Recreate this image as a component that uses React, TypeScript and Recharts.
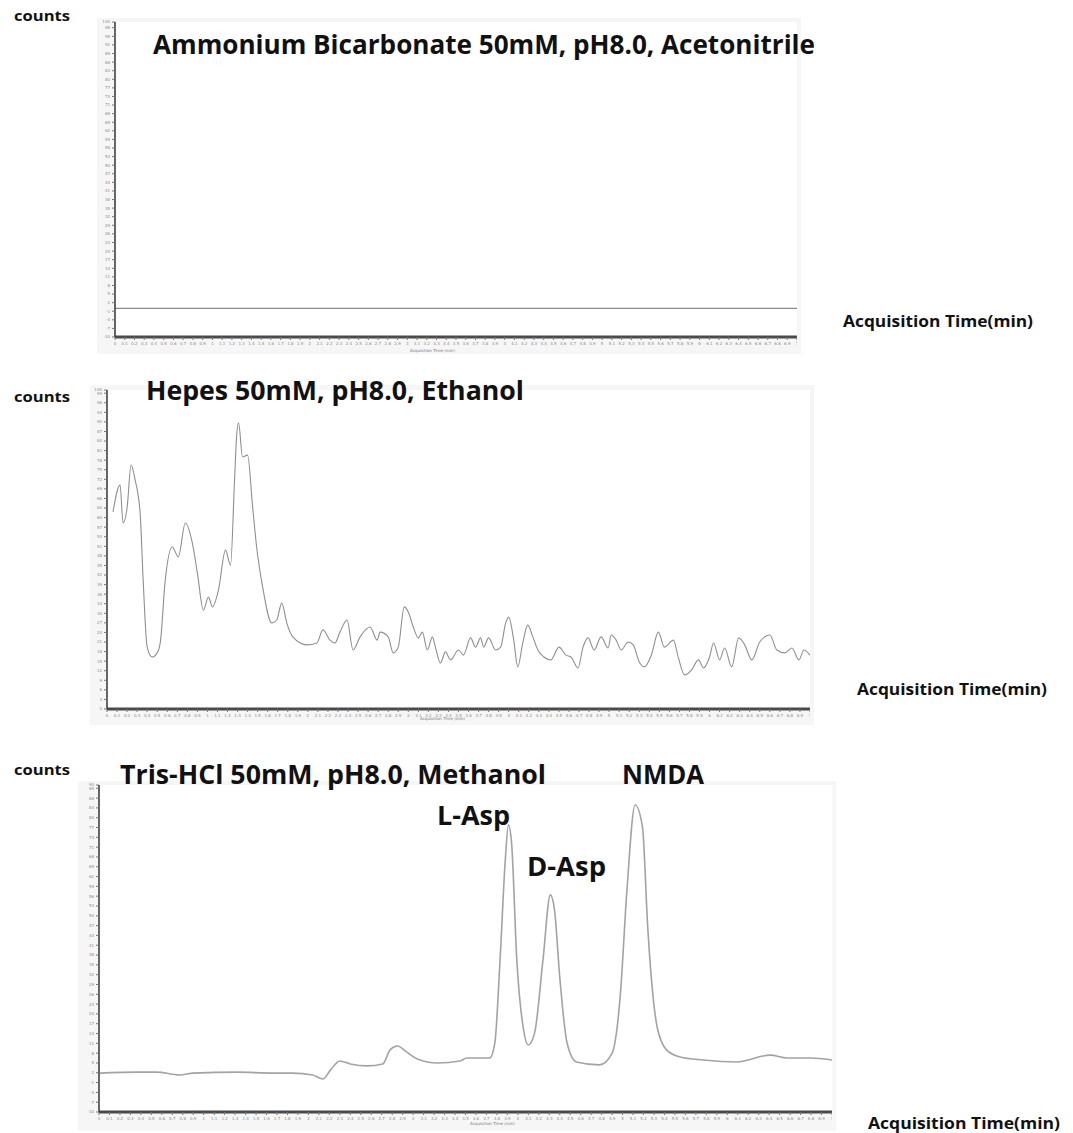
import React from 'react';
import { LineChart, Line, XAxis, YAxis, CartesianGrid } from 'recharts';

// panel 1 – flat trace (Ammonium Bicarbonate)
const ambicTime = [0, 1, 2, 3, 4, 5, 6, 7];
const ambicCounts = [0, 0, 0, 0, 0, 0, 0, 0];

// panel 2 – Hepes / Ethanol (noisy trace)
const hepesTime = [
  0.06, 0.13, 0.16, 0.2, 0.24, 0.28, 0.33, 0.36, 0.4, 0.45, 0.5, 0.53, 0.58, 0.65, 0.71, 0.78, 0.85, 0.9,
  0.96, 1.01, 1.05, 1.11, 1.18, 1.23, 1.27, 1.29, 1.31, 1.35, 1.4, 1.45, 1.49, 1.55, 1.64, 1.69, 1.74, 1.79,
  1.85, 1.99, 2.09, 2.15, 2.22, 2.27, 2.32, 2.39, 2.45, 2.52, 2.62, 2.69, 2.72, 2.8, 2.85, 2.9, 2.96, 3.0,
  3.05, 3.1, 3.14, 3.19, 3.24, 3.27, 3.32, 3.37, 3.42, 3.5, 3.55, 3.62, 3.67, 3.72, 3.75, 3.8, 3.87, 3.92,
  3.97, 4.0, 4.05, 4.09, 4.14, 4.19, 4.24, 4.29, 4.35, 4.42, 4.5, 4.57, 4.62, 4.69, 4.74, 4.79, 4.85, 4.92,
  4.99, 5.02, 5.07, 5.12, 5.19, 5.24, 5.3, 5.35, 5.42, 5.49, 5.55, 5.64, 5.69, 5.75, 5.82, 5.89, 5.94, 6.0,
  6.04, 6.1, 6.15, 6.22, 6.29, 6.35, 6.42, 6.5, 6.6, 6.67, 6.75, 6.82, 6.89, 6.94, 7.0,
];
const hepesCounts = [
  61.8, 70.2, 58.3, 63.0, 76.5, 71.8, 61.4, 40.4, 19.4, 16.3, 17.6, 20.7, 40.4, 50.8, 47.7, 58.3, 52.0, 42.6,
  31.0, 35.1, 32.0, 37.3, 49.8, 45.1, 71.8, 85.3, 89.7, 79.0, 79.6, 63.3, 50.8, 38.2, 27.0, 27.9, 33.2, 27.0,
  22.6, 20.1, 20.7, 24.8, 21.6, 20.7, 24.1, 27.9, 18.5, 22.6, 25.7, 21.6, 24.1, 22.6, 17.6, 19.4, 32.0, 30.4,
  25.7, 22.3, 24.1, 18.5, 22.6, 19.4, 14.4, 17.9, 15.4, 18.5, 16.9, 22.3, 19.4, 22.3, 19.4, 22.3, 18.5, 19.4,
  27.0, 28.8, 21.6, 13.2, 20.7, 26.3, 22.6, 18.5, 16.3, 15.4, 19.4, 16.9, 16.3, 12.9, 19.4, 22.3, 18.5, 22.6,
  19.1, 23.2, 21.6, 18.5, 21.0, 20.1, 14.7, 13.2, 16.9, 24.1, 19.4, 21.6, 16.0, 10.7, 12.2, 15.4, 12.9, 16.3,
  20.7, 15.4, 19.1, 13.2, 22.3, 20.1, 15.4, 21.0, 23.2, 18.5, 17.6, 19.1, 15.4, 18.5, 16.9,
];

// panel 3 – Tris-HCl / Methanol (L-Asp, D-Asp, NMDA peaks)
const trisTime = [
  0.01, 0.36, 0.55, 0.77, 0.9, 1.32, 1.66, 1.85, 2.04, 2.14, 2.21, 2.3, 2.4, 2.56, 2.71, 2.78, 2.85, 2.94,
  3.04, 3.23, 3.45, 3.51, 3.73, 3.78, 3.83, 3.88, 3.91, 3.94, 3.99, 4.05, 4.1, 4.16, 4.24, 4.31, 4.35, 4.4,
  4.47, 4.56, 4.78, 4.9, 4.98, 5.04, 5.12, 5.19, 5.24, 5.33, 5.42, 5.55, 5.77, 6.09, 6.41, 6.57, 6.79, 7.0,
];
const trisCounts = [
  1.9, 2.2, 2.2, 1.3, 1.9, 2.2, 1.9, 1.9, 1.3, 0.1, 2.8, 5.6, 4.7, 4.1, 4.7, 9.0, 10.2, 8.3,
  6.2, 5.0, 5.6, 6.5, 6.5, 11.1, 36.5, 67.1, 77.8, 72.3, 36.5, 16.0, 10.5, 14.2, 36.5, 56.4, 51.8, 31.3,
  11.1, 5.3, 4.4, 8.0, 26.4, 57.0, 83.9, 77.2, 46.6, 16.0, 9.0, 6.8, 5.9, 5.3, 7.4, 6.5, 6.5, 5.9,
];

const toRows = (t: number[], c: number[]) => t.map((time, i) => ({ time, counts: c[i] }));

const tickStyle = { fontSize: 4, fill: '#8a8a8a', fontFamily: 'DejaVu Sans' };
const fmt = (v: number) => String(Math.round(v * 100) / 100);

function Trace({ data, left, top, width, height, yDomain, yTickCount, curve, color, lineWidth }: any) {
  return (
    <div style={{ position: 'absolute', left, top }}>
      <LineChart width={width} height={height} data={data} margin={{ top: 8, right: 0, bottom: 0, left: 0 }}>
        <CartesianGrid horizontal={false} vertical={false} fill="#ffffff" />
        <XAxis
          dataKey="time"
          type="number"
          domain={[0, 7]}
          tickCount={71}
          interval={0}
          tickFormatter={fmt}
          height={14}
          tick={tickStyle}
          tickSize={3}
          axisLine={{ stroke: '#4a4a4a', strokeWidth: 3 }}
          tickLine={{ stroke: '#777' }}
        />
        <YAxis
          type="number"
          domain={yDomain}
          tickCount={yTickCount}
          interval={0}
          tickFormatter={fmt}
          width={20}
          tick={tickStyle}
          tickSize={3}
          axisLine={{ stroke: '#333', strokeWidth: 1.5 }}
          tickLine={{ stroke: '#777' }}
        />
        <Line
          dataKey="counts"
          type={curve}
          stroke={color}
          strokeWidth={lineWidth}
          dot={false}
          isAnimationActive={false}
        />
      </LineChart>
    </div>
  );
}

const bold = { fontFamily: 'Open Sans', fontWeight: 700, fill: '#111' } as const;

export default function App() {
  return (
    <div style={{ position: 'absolute', left: 0, top: 0, width: 1073, height: 1133, background: '#fff' }}>
      {/* light grey instrument frames */}
      <div style={{ position: 'absolute', left: 97, top: 18, width: 704, height: 336, background: '#f6f6f6' }} />
      <div style={{ position: 'absolute', left: 90, top: 385, width: 724, height: 340, background: '#f6f6f6' }} />
      <div style={{ position: 'absolute', left: 78, top: 781, width: 758, height: 350, background: '#f6f6f6' }} />

      <Trace data={toRows(ambicTime, ambicCounts)} left={95} top={14} width={702} height={337}
        yDomain={[-10, 100]} yTickCount={45} curve="linear" color="#8c8c8c" lineWidth={1.2} />
      <Trace data={toRows(hepesTime, hepesCounts)} left={87} top={382} width={723} height={341}
        yDomain={[0, 100]} yTickCount={41} curve="monotone" color="#8f8f8f" lineWidth={1.1} />
      <Trace data={toRows(trisTime, trisCounts)} left={79} top={777} width={753} height={349}
        yDomain={[-10, 90]} yTickCount={41} curve="monotone" color="#a3a3a3" lineWidth={1.6} />

      <svg width={1073} height={1133} style={{ position: 'absolute', left: 0, top: 0, pointerEvents: 'none' }}>
        <text x={14} y={21} fontSize={14} textLength={56} lengthAdjust="spacingAndGlyphs" {...bold}>counts</text>
        <text x={14} y={402} fontSize={14} textLength={56} lengthAdjust="spacingAndGlyphs" {...bold}>counts</text>
        <text x={14} y={775} fontSize={14} textLength={56} lengthAdjust="spacingAndGlyphs" {...bold}>counts</text>

        <text x={153} y={54} fontSize={27} textLength={662} lengthAdjust="spacingAndGlyphs" {...bold}>
          Ammonium Bicarbonate 50mM, pH8.0, Acetonitrile
        </text>
        <text x={146} y={400} fontSize={27} textLength={378} lengthAdjust="spacingAndGlyphs" {...bold}>
          Hepes 50mM, pH8.0, Ethanol
        </text>
        <text x={120} y={784} fontSize={27} textLength={426} lengthAdjust="spacingAndGlyphs" {...bold}>
          Tris-HCl 50mM, pH8.0, Methanol
        </text>

        <text x={437} y={825} fontSize={27} textLength={73} lengthAdjust="spacingAndGlyphs" {...bold}>L-Asp</text>
        <text x={527} y={876} fontSize={27} textLength={79} lengthAdjust="spacingAndGlyphs" {...bold}>D-Asp</text>
        <text x={622} y={784} fontSize={27} textLength={82} lengthAdjust="spacingAndGlyphs" {...bold}>NMDA</text>

        <text x={843} y={327} fontSize={16} textLength={190} lengthAdjust="spacingAndGlyphs" {...bold}>Acquisition Time(min)</text>
        <text x={857} y={695} fontSize={16} textLength={190} lengthAdjust="spacingAndGlyphs" {...bold}>Acquisition Time(min)</text>
        <text x={868} y={1129} fontSize={16} textLength={192} lengthAdjust="spacingAndGlyphs" {...bold}>Acquisition Time(min)</text>

        <text x={410} y={352} fontSize={4} fill="#777" fontFamily="DejaVu Sans">Acquisition Time (min)</text>
        <text x={420} y={720} fontSize={4} fill="#777" fontFamily="DejaVu Sans">Acquisition Time (min)</text>
        <text x={470} y={1125} fontSize={4} fill="#777" fontFamily="DejaVu Sans">Acquisition Time (min)</text>
      </svg>
    </div>
  );
}
